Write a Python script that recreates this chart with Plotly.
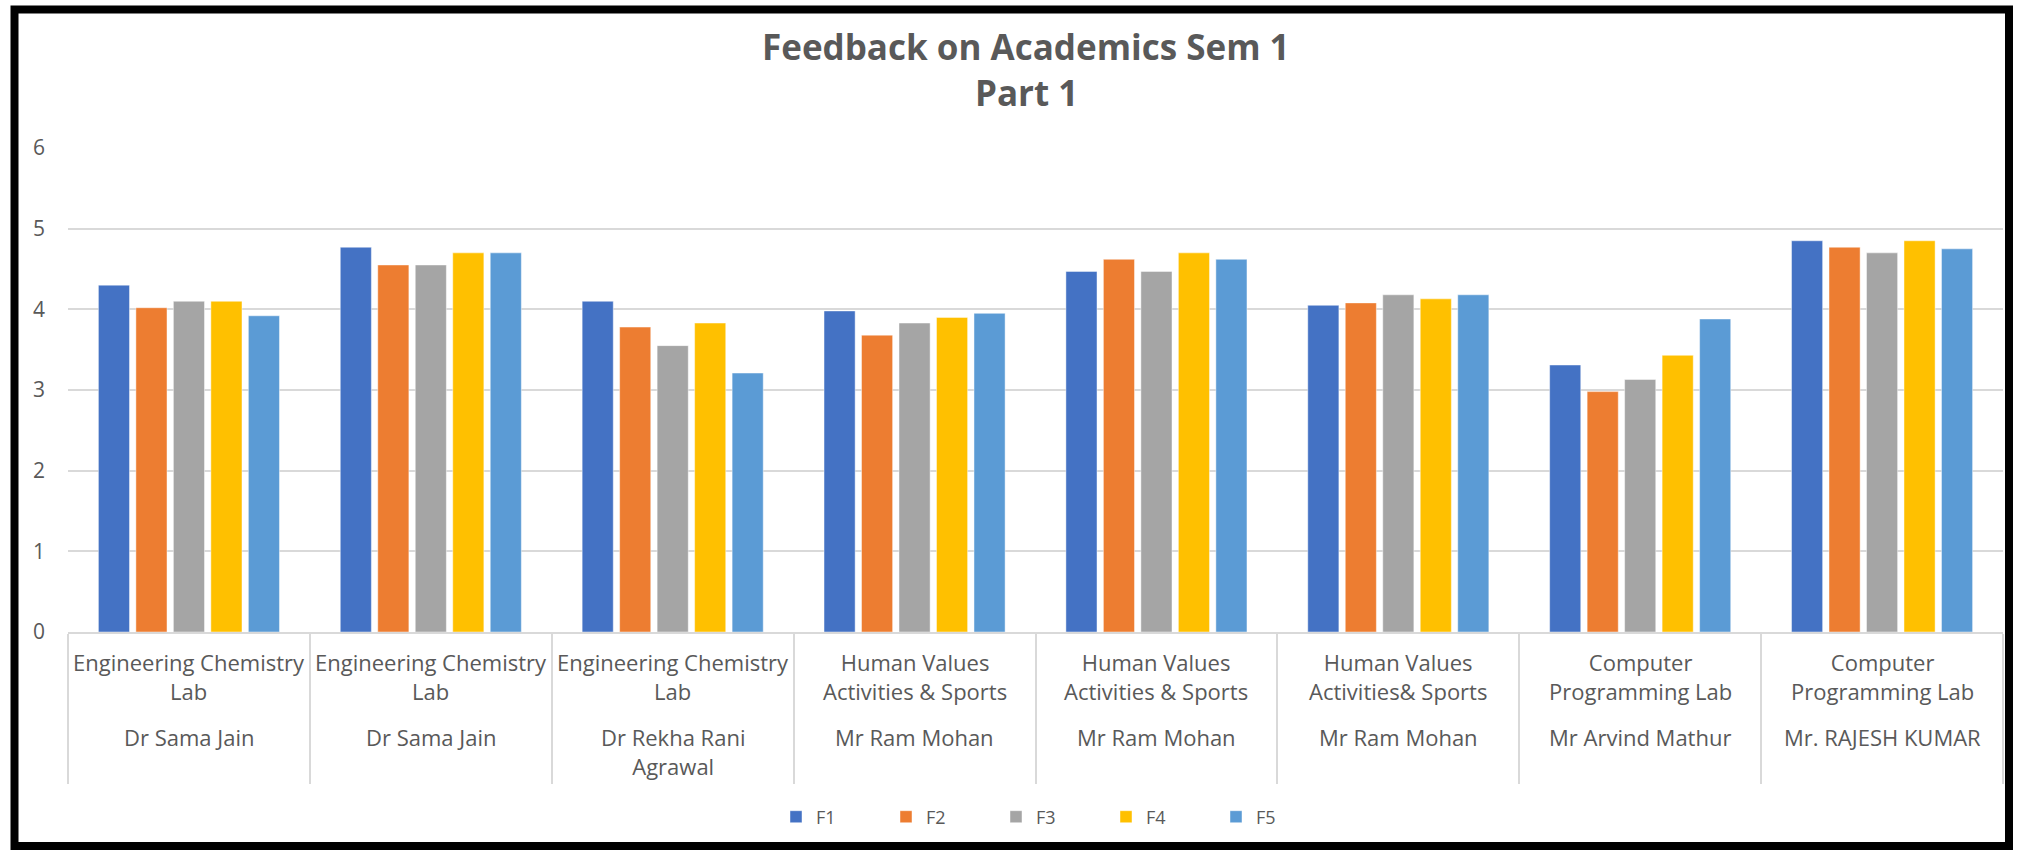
import plotly.graph_objects as go

# ---------------- data ----------------
courses = [
    "Engineering Chemistry<br>Lab",
    "Engineering Chemistry<br>Lab",
    "Engineering Chemistry<br>Lab",
    "Human Values<br>Activities & Sports",
    "Human Values<br>Activities & Sports",
    "Human Values<br>Activities& Sports",
    "Computer<br>Programming Lab",
    "Computer<br>Programming Lab",
]
teachers = [
    "Dr Sama Jain",
    "Dr Sama Jain",
    "Dr Rekha Rani<br>Agrawal",
    "Mr Ram Mohan",
    "Mr Ram Mohan",
    "Mr Ram Mohan",
    "Mr Arvind Mathur",
    "Mr. RAJESH KUMAR",
]
series_names = ["F1", "F2", "F3", "F4", "F5"]
F1 = [4.30, 4.77, 4.10, 3.98, 4.47, 4.05, 3.31, 4.85]
F2 = [4.02, 4.55, 3.78, 3.68, 4.62, 4.08, 2.98, 4.77]
F3 = [4.10, 4.55, 3.55, 3.83, 4.47, 4.18, 3.13, 4.70]
F4 = [4.10, 4.70, 3.83, 3.90, 4.70, 4.13, 3.43, 4.85]
F5 = [3.92, 4.70, 3.21, 3.95, 4.62, 4.18, 3.88, 4.75]
y_ticks = [0, 1, 2, 3, 4, 5, 6]
title_lines = ["Feedback on Academics Sem 1", "Part 1"]

# ---------------- styling ----------------
colors = ["#4472C4", "#ED7D31", "#A5A5A5", "#FFC000", "#5B9BD5"]
TXT = "#595959"
GRID = "#D9D9D9"
FONT = "Open Sans"
W, H = 2023, 852
ML, MR, MT, MB = 68, 20, 148, 220
PW, PH = W - ML - MR, H - MT - MB

def px_x(p):
    return (p - ML) / PW

def px_y(p):
    return (H - MB - p) / PH

# unique category keys (some course/teacher pairs repeat)
keys = [f"{i+1}: {c} / {t}" for i, (c, t) in enumerate(zip(courses, teachers))]

fig = go.Figure()
for name, vals, col in zip(series_names, [F1, F2, F3, F4, F5], colors):
    fig.add_trace(go.Bar(
        x=keys, y=vals, name=name,
        marker=dict(color=col, line=dict(color="rgba(255,255,255,0.45)", width=1)),
    ))

annotations = []
for k, c, t in zip(keys, courses, teachers):
    annotations.append(dict(x=k, xref="x", y=px_y(645), yref="paper",
                            text=c, showarrow=False, xanchor="center", yanchor="top",
                            font=dict(family=FONT, size=22, color=TXT)))
    annotations.append(dict(x=k, xref="x", y=px_y(720), yref="paper",
                            text=t, showarrow=False, xanchor="center", yanchor="top",
                            font=dict(family=FONT, size=22, color=TXT)))
annotations.append(dict(x=px_x(1026), xref="paper", y=px_y(46.5), yref="paper",
                        text=f"<b>{title_lines[0]}</b>", showarrow=False,
                        xanchor="center", yanchor="middle",
                        font=dict(family=FONT, size=35, color=TXT)))
annotations.append(dict(x=px_x(1026), xref="paper", y=px_y(92.5), yref="paper",
                        text=f"<b>{title_lines[1]}</b>", showarrow=False,
                        xanchor="center", yanchor="middle",
                        font=dict(family=FONT, size=35, color=TXT)))

fig.update_layout(
    width=W, height=H,
    margin=dict(l=ML, r=MR, t=MT, b=MB, pad=0),
    paper_bgcolor="white", plot_bgcolor="white",
    barmode="group", bargap=0.225, bargroupgap=0.17,
    font=dict(family=FONT, color=TXT),
    showlegend=True,
    legend=dict(orientation="h", x=px_x(1051), xanchor="center",
                y=px_y(817), yanchor="middle",
                entrywidth=65, entrywidthmode="pixels",
                font=dict(family=FONT, size=18, color=TXT),
                bgcolor="rgba(0,0,0,0)"),
    xaxis=dict(type="category", showticklabels=False, showgrid=False,
               showline=True, linecolor=GRID, linewidth=1.5,
               ticks="outside", tickson="boundaries", ticklen=150,
               tickcolor=GRID, tickwidth=1.5, zeroline=False),
    yaxis=dict(range=[0, 6], tickvals=y_ticks, showgrid=True, gridcolor=GRID,
               gridwidth=1.5, zeroline=False, showline=False, ticks="",
               ticklabelstandoff=22,
               tickfont=dict(family=FONT, size=21, color=TXT)),
    annotations=annotations,
    shapes=[dict(type="rect", xref="paper", yref="paper",
                 x0=px_x(14.5), x1=px_x(2009), y0=px_y(9.5), y1=px_y(846),
                 line=dict(color="black", width=8), fillcolor="rgba(0,0,0,0)")],
)

fig.write_html("out.html",
               config={"displayModeBar": False},
               post_script="document.body.style.margin='0';document.body.style.overflow='hidden';")
